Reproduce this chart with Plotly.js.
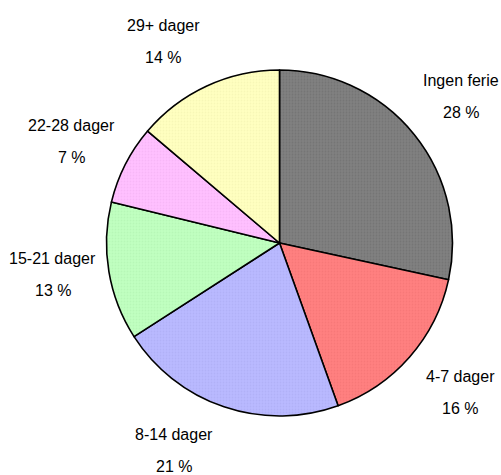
<!DOCTYPE html>
<html>
<head>
<meta charset="utf-8">
<script src="https://cdn.plot.ly/plotly-3.0.1.min.js"></script>
<style>
  html, body { margin: 0; padding: 0; background: #fff; }
  #myPlot { width: 501px; height: 475px; }
</style>
</head>
<body>
<div id="myPlot"></div>
<script>
var labels = ["Ingen ferie", "4-7 dager", "8-14 dager", "15-21 dager", "22-28 dager", "29+ dager"];
var values = [28.4, 16.1, 21.4, 12.9, 7.4, 13.8];
var pctText = ["28 %", "16 %", "21 %", "13 %", "7 %", "14 %"];
var colors = ["#808080", "#ff8080", "#babaff", "#c0ffc0", "#ffc0ff", "#ffffc0"];
var dotColors = ["#6a6a6a", "#f07070", "#a8a8f0", "#aef0ae", "#f0aef0", "#f0f0ae"];

var W = 501, H = 475;
var cx = 279.5, cy = 243, r = 173;
var labelR = 231;
// small hand nudges for where the original put each label (px)
var nudgeX = [2, 7, -31, 1, -2, -19];
var nudgeY = [-2, -3, -11, -7, 3, 8];

var data = [{
  type: "pie",
  labels: labels,
  values: values,
  sort: false,
  direction: "clockwise",
  rotation: 0,
  textinfo: "none",
  hoverinfo: "label+percent",
  marker: {
    colors: colors,
    line: {color: "#000", width: 1.6},
    pattern: {shape: ".", size: 3, solidity: 0.3, fgcolor: dotColors, fillmode: "overlay"}
  },
  domain: {x: [(cx - r) / W, (cx + r) / W], y: [(H - cy - r) / H, (H - cy + r) / H]},
  showlegend: false
}];

var total = values.reduce(function (a, b) { return a + b; }, 0);
var annotations = [];
var cum = 0;
for (var i = 0; i < values.length; i++) {
  var mid = (cum + values[i] / 2) / total * 2 * Math.PI;
  cum += values[i];
  var px = cx + labelR * Math.sin(mid) + nudgeX[i];
  var py = cy - labelR * Math.cos(mid) + nudgeY[i];
  var base = {xref: "paper", yref: "paper", x: px / W, y: (H - py) / H,
              showarrow: false, xanchor: "center", yanchor: "middle",
              font: {family: "Liberation Sans, Arial, sans-serif", size: 16, color: "#000"}};
  annotations.push(Object.assign({}, base, {text: labels[i], yshift: 16}));
  annotations.push(Object.assign({}, base, {text: pctText[i], yshift: -16}));
}

var layout = {
  width: W,
  height: H,
  margin: {l: 0, r: 0, t: 0, b: 0},
  paper_bgcolor: "#fff",
  annotations: annotations
};

Plotly.newPlot("myPlot", data, layout, {displayModeBar: false});
</script>
</body>
</html>
